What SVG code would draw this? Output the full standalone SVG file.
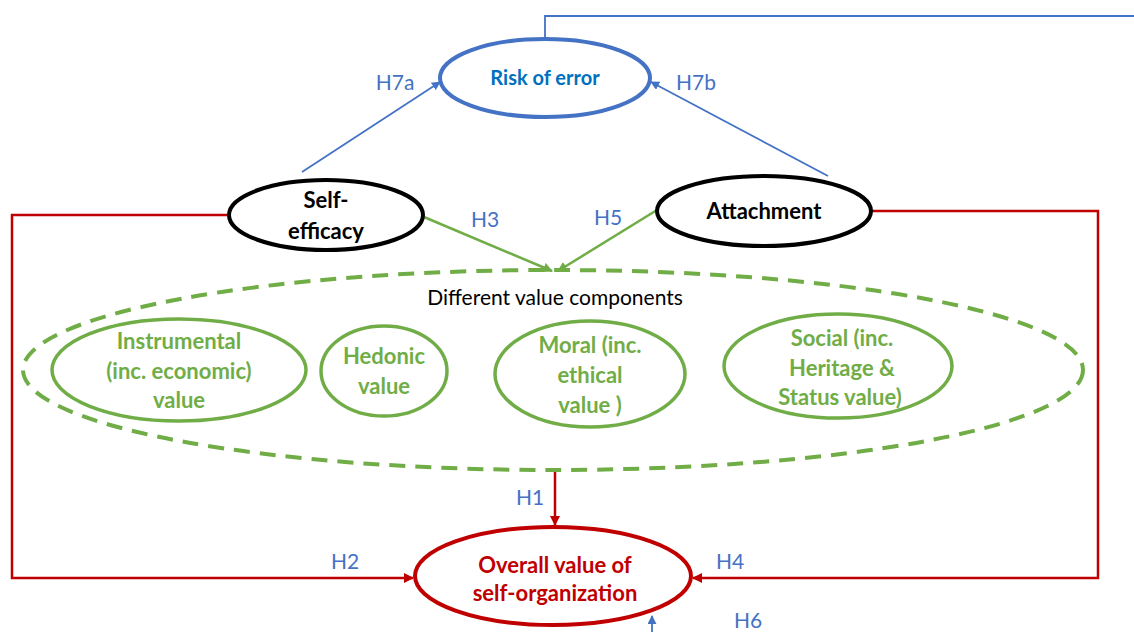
<svg xmlns="http://www.w3.org/2000/svg" width="1134" height="632" viewBox="0 0 1134 632">
<defs>
<style>
text{font-family:Lato,"Open Sans","Liberation Sans",sans-serif;text-anchor:middle}
.lbl{fill:#4472C4;font-size:21px}
.g{fill:#70AD47;font-size:22px;font-weight:bold}
.ge{fill:none;stroke:#70AD47;stroke-width:3.5}
.blk{fill:none;stroke:#000;stroke-width:4}
.red{fill:none;stroke:#C00000;stroke-width:2.5}
.blue{fill:none;stroke:#4472C4;stroke-width:1.8}
.grn{fill:none;stroke:#70AD47;stroke-width:2.5}
</style>
<marker id="ar" viewBox="0 0 10 10" refX="9" refY="5" markerWidth="4" markerHeight="4" orient="auto"><path d="M0,0L10,5L0,10z" fill="#C00000"/></marker>
<marker id="ab" viewBox="0 0 10 10" refX="9" refY="5" markerWidth="5" markerHeight="5" orient="auto"><path d="M0,0L10,5L0,10z" fill="#4472C4"/></marker>
<marker id="ag" viewBox="0 0 10 10" refX="9" refY="5" markerWidth="4" markerHeight="4" orient="auto"><path d="M0,0L10,5L0,10z" fill="#70AD47"/></marker>
</defs>
<rect width="1134" height="632" fill="#fff"/>
<g id="connectors">
<path class="blue" d="M545,39V16H1134" stroke-width="3"/>
<path class="blue" d="M302,172L440,82" marker-end="url(#ab)"/>
<path class="blue" d="M828,176L651,82" marker-end="url(#ab)"/>
<path class="grn" d="M424,217L552,271" marker-end="url(#ag)"/>
<path class="grn" d="M657,210L558,271" marker-end="url(#ag)"/>
<path class="red" d="M229,215H12V578H413" marker-end="url(#ar)"/>
<path class="red" d="M872,211H1098V578H693" marker-end="url(#ar)"/>
<path class="red" d="M555,469V525" marker-end="url(#ar)"/>
<path class="blue" d="M652,632V616" stroke-width="2.5" marker-end="url(#ab)"/>
<text class="lbl" x="395" y="90">H7a</text>
<text class="lbl" x="696" y="90">H7b</text>
<text class="lbl" x="485" y="227">H3</text>
<text class="lbl" x="608" y="225">H5</text>
<text class="lbl" x="530" y="505">H1</text>
<text class="lbl" x="345" y="569">H2</text>
<text class="lbl" x="730" y="569">H4</text>
<text class="lbl" x="748" y="628">H6</text>
</g>
<g id="risk">
<ellipse cx="545" cy="78" rx="105" ry="39" fill="none" stroke="#4472C4" stroke-width="4"/>
<text x="545" y="85" fill="#0070C0" font-size="20" font-weight="bold">Risk of error</text>
</g>
<g id="selfefficacy">
<ellipse class="blk" cx="326" cy="215" rx="97" ry="35"/>
<text x="326" y="208" font-size="22" font-weight="bold">Self-</text>
<text x="326" y="239" font-size="22" font-weight="bold">efficacy</text>
</g>
<g id="attachment">
<ellipse class="blk" cx="764" cy="211" rx="107" ry="35"/>
<text x="764" y="219" font-size="22" font-weight="bold">Attachment</text>
</g>
<g id="components">
<ellipse cx="553" cy="370" rx="530" ry="100" fill="none" stroke="#70AD47" stroke-width="4" stroke-dasharray="16,10"/>
<text x="555" y="305" font-size="21" fill="#000">Different value components</text>
</g>
<g id="instrumental">
<ellipse class="ge" cx="179" cy="370" rx="127" ry="51"/>
<text class="g" x="179" y="349">Instrumental</text>
<text class="g" x="179" y="379">(inc. economic)</text>
<text class="g" x="179" y="408">value</text>
</g>
<g id="hedonic">
<ellipse class="ge" cx="384" cy="371" rx="63" ry="45"/>
<text class="g" x="384" y="364">Hedonic</text>
<text class="g" x="384" y="394">value</text>
</g>
<g id="moral">
<ellipse class="ge" cx="590" cy="374" rx="95" ry="53"/>
<text class="g" x="590" y="353">Moral (inc.</text>
<text class="g" x="590" y="383">ethical</text>
<text class="g" x="590" y="413">value )</text>
</g>
<g id="social">
<ellipse class="ge" cx="838" cy="366" rx="114" ry="52"/>
<text class="g" x="842" y="346">Social (inc.</text>
<text class="g" x="842" y="376">Heritage &amp;</text>
<text class="g" x="840" y="405">Status value)</text>
</g>
<g id="overall">
<ellipse cx="553" cy="576" rx="138" ry="49" fill="none" stroke="#C00000" stroke-width="4"/>
<text x="555" y="573" fill="#C00000" font-size="22" font-weight="bold">Overall value of</text>
<text x="555" y="601" fill="#C00000" font-size="22" font-weight="bold">self-organization</text>
</g>
</svg>
